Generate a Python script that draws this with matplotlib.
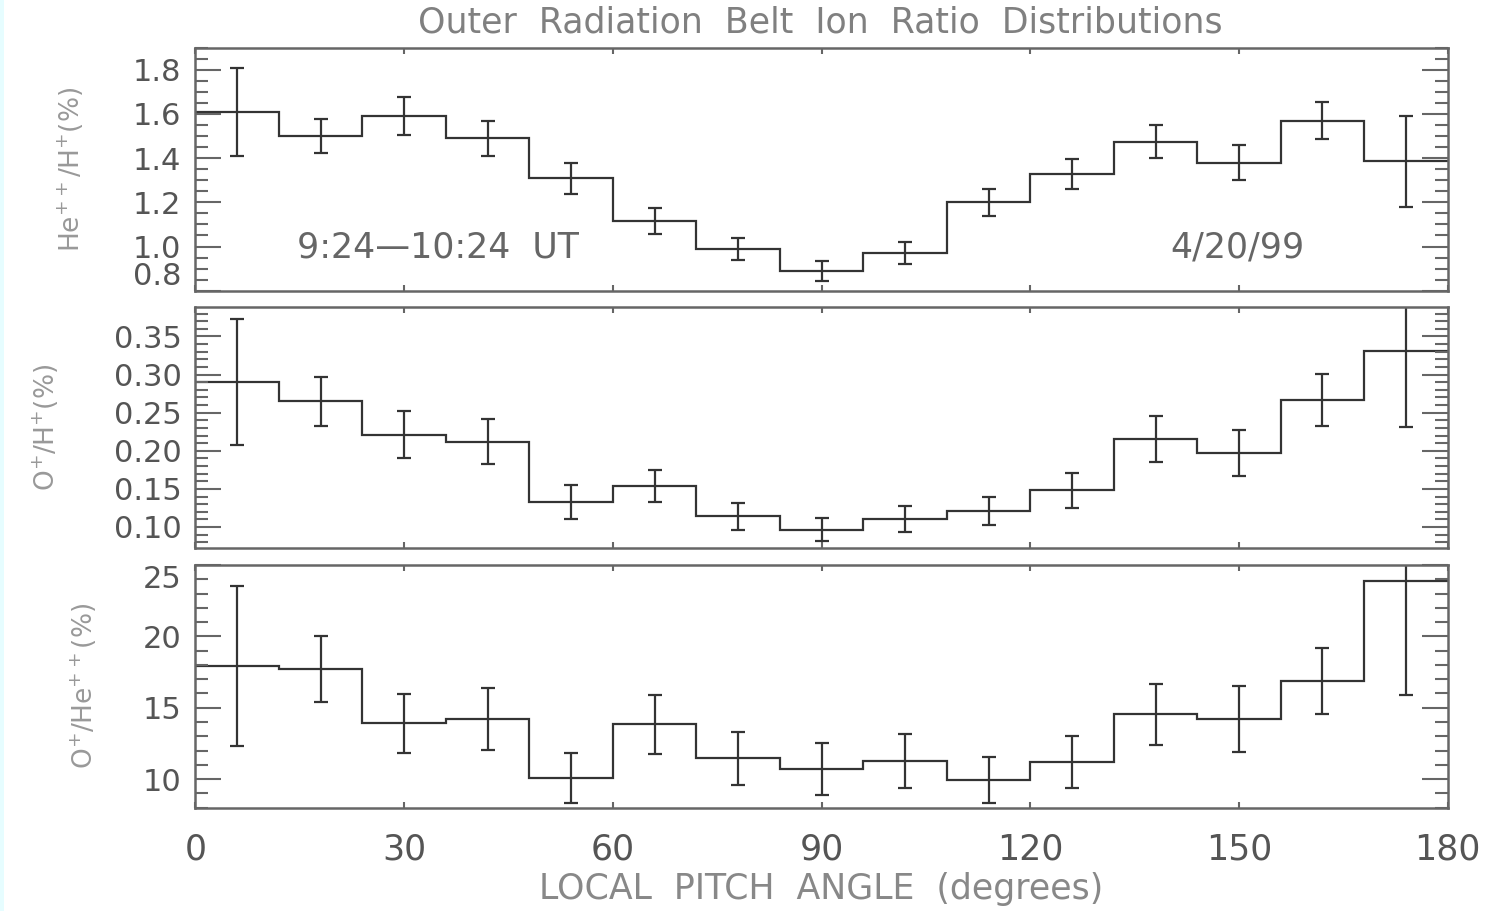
#!/usr/bin/env python3
"""
Outer radiation belt ion ratio distributions versus local pitch angle,
three stacked step histograms with statistical error bars.
"""

import numpy as np
import matplotlib
matplotlib.use("Agg")
import matplotlib.pyplot as plt
from matplotlib.patches import Rectangle
from matplotlib.ticker import MultipleLocator, FormatStrFormatter

# 12-degree pitch angle bins
pitch_edges = [0, 12, 24, 36, 48, 60, 72, 84, 96, 108, 120, 132, 144, 156, 168, 180]

# He++/H+ (%)
he_h = [1.61, 1.50, 1.59, 1.49, 1.31, 1.115, 0.99, 0.89, 0.97, 1.20,
        1.33, 1.475, 1.38, 1.57, 1.385]
he_h_err = [0.20, 0.078, 0.085, 0.078, 0.07, 0.06, 0.05, 0.045, 0.05, 0.06,
            0.068, 0.076, 0.078, 0.083, 0.205]

# O+/H+ (%)
o_h = [0.290, 0.265, 0.221, 0.212, 0.133, 0.154, 0.114, 0.0965, 0.1105, 0.121,
       0.148, 0.2155, 0.197, 0.267, 0.331]
o_h_err = [0.083, 0.032, 0.031, 0.030, 0.022, 0.021, 0.018, 0.015, 0.017, 0.019,
           0.023, 0.030, 0.030, 0.034, 0.100]

# O+/He++ (%)
o_he = [17.9, 17.7, 13.9, 14.2, 10.05, 13.85, 11.45, 10.7, 11.25, 9.95,
        11.2, 14.55, 14.2, 16.9, 23.9]
o_he_err = [5.6, 2.3, 2.05, 2.15, 1.75, 2.07, 1.86, 1.83, 1.88, 1.63,
            1.85, 2.13, 2.29, 2.31, 8.0]

LINE = "#333333"
AXIS = "#666666"
TICKTXT = "#555555"
LABELTXT = "#999999"

plt.rcParams["font.family"] = ["DejaVu Sans"]


def draw_panel(ax, vals, errs, ylim, major, minor, fmt, ylabel, label_x):
    edges = np.array(pitch_edges, dtype=float)
    centers = 0.5 * (edges[:-1] + edges[1:])
    ax.stairs(vals, edges, baseline=None, color=LINE, linewidth=1.6)
    ax.errorbar(centers, vals, yerr=errs, fmt="none", ecolor=LINE,
                elinewidth=1.6, capsize=5, capthick=1.6)

    ax.set_xlim(0, 180)
    ax.set_ylim(*ylim)
    ax.xaxis.set_major_locator(MultipleLocator(30))
    ax.yaxis.set_major_locator(MultipleLocator(major))
    ax.yaxis.set_minor_locator(MultipleLocator(minor))
    ax.yaxis.set_major_formatter(FormatStrFormatter(fmt))

    ax.tick_params(axis="x", which="both", direction="in", top=True,
                   bottom=True, length=4, width=1.5, color=AXIS,
                   labelsize=25, labelcolor=TICKTXT, pad=18)
    ax.tick_params(axis="y", which="major", direction="in", left=True,
                   right=True, length=19, width=1.5, color=AXIS,
                   labelsize=22, labelcolor=TICKTXT, pad=10)
    ax.tick_params(axis="y", which="minor", direction="in", left=True,
                   right=True, length=9.5, width=1.5, color=AXIS)
    for sp in ax.spines.values():
        sp.set_color(AXIS)
        sp.set_linewidth(1.8)

    ax.set_ylabel(ylabel, fontsize=19, color=LABELTXT)
    ax.yaxis.set_label_coords(label_x, 0.5)


fig = plt.figure(figsize=(14.99, 9.11), dpi=100)
fig.patches.append(Rectangle((0, 0), 4 / 1499, 1, transform=fig.transFigure,
                             facecolor="#e6fdff", edgecolor="none", zorder=0))

left, width = 0.1303, 0.8355
ax1 = fig.add_axes([left, 0.6809, width, 0.2667])
ax2 = fig.add_axes([left, 0.3981, width, 0.2652])
ax3 = fig.add_axes([left, 0.1134, width, 0.2664])

draw_panel(ax1, he_h, he_h_err, (0.8, 1.9), 0.2, 0.05, "%.1f",
           r"He$^{++}$/H$^{+}$(%)", -0.087)
draw_panel(ax2, o_h, o_h_err, (0.072, 0.389), 0.05, 0.01, "%.2f",
           r"O$^{+}$/H$^{+}$(%)", -0.107)
draw_panel(ax3, o_he, o_he_err, (8.0, 25.0), 5, 1, "%d",
           r"O$^{+}$/He$^{++}$(%)", -0.077)

for ax in (ax1, ax2):
    ax.tick_params(axis="x", labelbottom=False)

# keep the end labels inside the panel
fig.canvas.draw()
for lab in ax1.get_yticklabels():
    if lab.get_text() == "0.8":
        lab.set_verticalalignment("bottom")
for lab in ax3.get_yticklabels():
    if lab.get_text() == "25":
        lab.set_verticalalignment("top")

ax3.set_xlabel("LOCAL  PITCH  ANGLE  (degrees)", fontsize=25,
               color="#888888", labelpad=4)

ax1.text(0.194, 0.178, "9:24\u201410:24  UT", transform=ax1.transAxes,
         ha="center", va="center", fontsize=25, color="#666666")
ax1.text(0.832, 0.178, "4/20/99", transform=ax1.transAxes,
         ha="center", va="center", fontsize=25, color="#666666")

fig.text(0.547, 0.975, "Outer  Radiation  Belt  Ion  Ratio  Distributions",
         ha="center", va="center", fontsize=25, color="#808080")

fig.savefig("out.png", dpi=100, facecolor="white")
